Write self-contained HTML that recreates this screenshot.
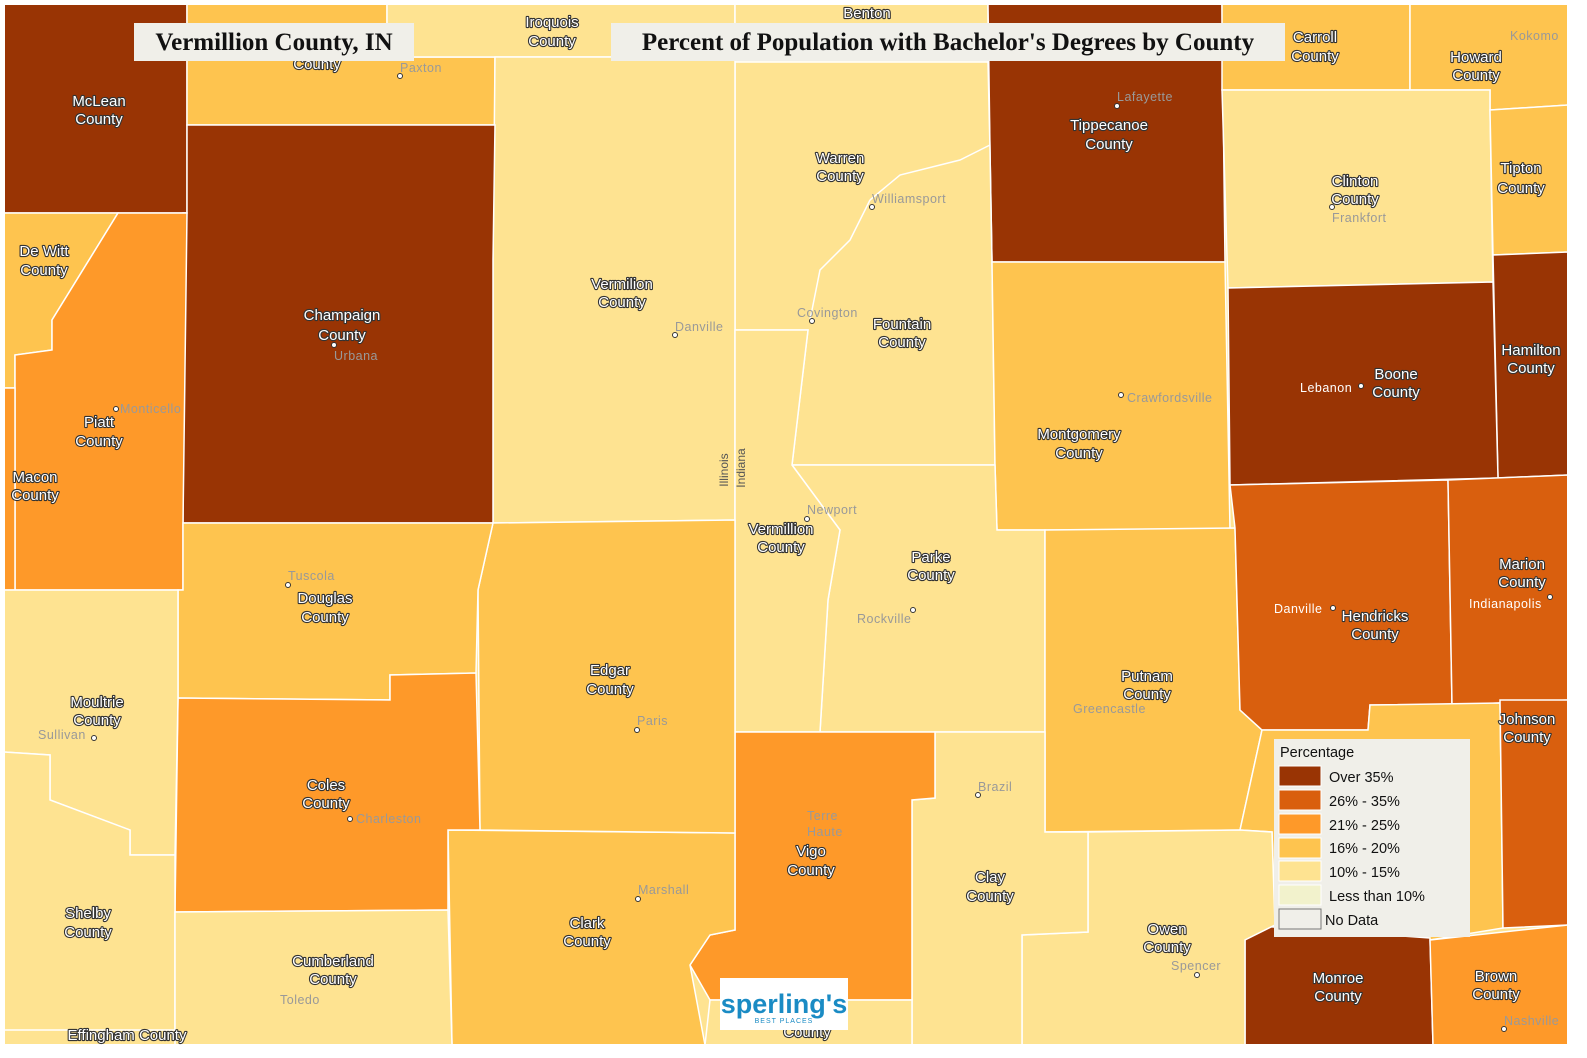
<!DOCTYPE html>
<html><head><meta charset="utf-8"><style>
body{margin:0;background:#fff}
svg{display:block}
.c{font-family:"Liberation Sans",sans-serif;font-size:15px;fill:#fff;stroke:#333;stroke-width:2.2px;paint-order:stroke;text-anchor:middle;stroke-linejoin:round}
.t{font-family:"Liberation Sans",sans-serif;font-size:12.5px;fill:#999;letter-spacing:0.5px}
.d{fill:#fff;stroke:#333;stroke-width:1}
</style></head><body>
<svg width="1587" height="1058" viewBox="0 0 1587 1058" xmlns="http://www.w3.org/2000/svg">
<rect width="1587" height="1058" fill="#fff"/>
<g stroke="#fff" stroke-width="1.5">
<rect x="4" y="4" width="1564" height="1041" fill="#fee391"/>
<polygon fill="#993404" points="4,4 187,4 187,213 4,213"/>
<polygon fill="#fec44f" points="187,4 387,4 387,57 495,57 495,125 187,125"/>
<polygon fill="#fee391" points="387,4 735,4 735,57 495,57 387,57"/>
<polygon fill="#fee391" points="735,4 988,4 988,62 735,62"/>
<polygon fill="#993404" points="988,4 1222,4 1225,262 992,262 990,150"/>
<polygon fill="#fec44f" points="1222,4 1410,4 1410,90 1222,90"/>
<polygon fill="#fec44f" points="1410,4 1568,4 1568,105 1490,110 1490,90 1410,90"/>
<polygon fill="#fee391" points="1222,90 1490,90 1490,110 1493,282 1228,288"/>
<polygon fill="#fec44f" points="1490,110 1568,105 1568,252 1493,255"/>
<polygon fill="#993404" points="1493,255 1568,252 1568,475 1498,478"/>
<polygon fill="#993404" points="1228,288 1493,282 1498,478 1230,485"/>
<polygon fill="#fee391" points="735,62 988,62 990,150 992,262 995,465 792,465 808,330 735,330"/>
<polygon fill="#fee391" points="495,57 735,57 735,520 493,523 493,260"/>
<polygon fill="#993404" points="187,125 495,125 493,260 493,523 183,523 183,213 187,213"/>
<polygon fill="#fec44f" points="4,213 118,213 52,320 52,350 15,355 15,388 4,388"/>
<polygon fill="#fe9929" points="118,213 187,213 183,523 183,590 15,590 15,355 52,350 52,320"/>
<polygon fill="#fe9929" points="4,388 15,388 15,590 4,590"/>
<polygon fill="#fec44f" points="992,262 1225,262 1230,530 997,530 995,465"/>
<polygon fill="#fee391" points="792,465 995,465 997,530 1045,530 1045,732 820,732 828,600 840,530"/>
<polygon fill="#fee391" points="735,330 808,330 792,465 840,530 828,600 820,732 735,732"/>
<polygon fill="#fec44f" points="1045,530 1235,528 1240,710 1262,730 1240,830 1045,832"/>
<polygon fill="#d95f0e" points="1230,485 1448,480 1452,705 1370,705 1368,730 1262,730 1240,710 1235,528"/>
<polygon fill="#d95f0e" points="1448,480 1568,475 1568,700 1452,705"/>
<polygon fill="#fec44f" points="1370,705 1500,703 1503,928 1430,940 1275,925 1272,832 1240,830 1262,730 1368,730"/>
<polygon fill="#d95f0e" points="1500,700 1568,700 1568,925 1503,928"/>
<polygon fill="#993404" points="1245,925 1430,938 1433,1045 1245,1045"/>
<polygon fill="#fe9929" points="1430,940 1568,925 1568,1045 1433,1045"/>
<polygon fill="#fee391" points="1088,832 1240,830 1272,832 1275,925 1245,940 1245,1045 1022,1045 1022,935 1088,932"/>
<polygon fill="#fee391" points="935,732 1045,732 1045,832 1088,832 1088,932 1022,935 1022,1045 912,1045 912,800 935,798"/>
<polygon fill="#fe9929" points="735,732 935,732 935,798 912,800 912,1000 710,1000 690,965 710,935 735,930"/>
<polygon fill="#fee391" points="710,1000 912,1000 912,1045 705,1045"/>
<polygon fill="#fec44f" points="448,830 735,833 735,930 710,935 690,965 705,1045 452,1045"/>
<polygon fill="#fec44f" points="493,523 735,520 735,833 480,830 478,590"/>
<polygon fill="#fec44f" points="183,523 493,523 478,590 476,673 390,675 390,700 178,698 178,590 183,590"/>
<polygon fill="#fe9929" points="178,698 390,700 390,675 476,673 480,830 448,830 448,910 175,912"/>
<polygon fill="#fee391" points="4,590 178,590 178,698 175,855 130,855 130,830 50,800 50,755 4,752"/>
<polygon fill="#fee391" points="4,752 50,755 50,800 130,830 130,855 175,855 175,1030 4,1030"/>
<polygon fill="#fee391" points="175,912 448,910 452,1045 175,1045"/>
<polyline fill="none" points="870,200 900,175 960,160 990,145"/>
<polyline fill="none" points="870,200 850,240 820,270 810,320"/>
</g>
<rect x="4" y="4" width="1564" height="1041" fill="none" stroke="#fff" stroke-width="2"/>

<g class="c">
<text x="99" y="106">McLean</text><text x="99" y="124">County</text>
<text x="317" y="69">County</text>
<text x="552" y="27">Iroquois</text><text x="552" y="46">County</text>
<text x="867" y="18">Benton</text>
<text x="1315" y="42">Carroll</text><text x="1315" y="61">County</text>
<text x="1476" y="62">Howard</text><text x="1476" y="80">County</text>
<text x="1109" y="130">Tippecanoe</text><text x="1109" y="149">County</text>
<text x="840" y="163">Warren</text><text x="840" y="181">County</text>
<text x="1355" y="186">Clinton</text><text x="1355" y="204">County</text>
<text x="1521" y="173">Tipton</text><text x="1521" y="193">County</text>
<text x="44" y="256">De Witt</text><text x="44" y="275">County</text>
<text x="622" y="289">Vermilion</text><text x="622" y="307">County</text>
<text x="342" y="320">Champaign</text><text x="342" y="340">County</text>
<text x="902" y="329">Fountain</text><text x="902" y="347">County</text>
<text x="1531" y="355">Hamilton</text><text x="1531" y="373">County</text>
<text x="1396" y="379">Boone</text><text x="1396" y="397">County</text>
<text x="99" y="427">Piatt</text><text x="99" y="446">County</text>
<text x="1079" y="439">Montgomery</text><text x="1079" y="458">County</text>
<text x="35" y="482">Macon</text><text x="35" y="500">County</text>
<text x="781" y="534">Vermillion</text><text x="781" y="552">County</text>
<text x="931" y="562">Parke</text><text x="931" y="580">County</text>
<text x="1522" y="569">Marion</text><text x="1522" y="587">County</text>
<text x="325" y="603">Douglas</text><text x="325" y="622">County</text>
<text x="1375" y="621">Hendricks</text><text x="1375" y="639">County</text>
<text x="610" y="675">Edgar</text><text x="610" y="694">County</text>
<text x="1147" y="681">Putnam</text><text x="1147" y="699">County</text>
<text x="97" y="707">Moultrie</text><text x="97" y="725">County</text>
<text x="1527" y="724">Johnson</text><text x="1527" y="742">County</text>
<text x="326" y="790">Coles</text><text x="326" y="808">County</text>
<text x="811" y="856">Vigo</text><text x="811" y="875">County</text>
<text x="990" y="882">Clay</text><text x="990" y="901">County</text>
<text x="88" y="918">Shelby</text><text x="88" y="937">County</text>
<text x="587" y="928">Clark</text><text x="587" y="946">County</text>
<text x="1167" y="934">Owen</text><text x="1167" y="952">County</text>
<text x="333" y="966">Cumberland</text><text x="333" y="984">County</text>
<text x="1338" y="983">Monroe</text><text x="1338" y="1001">County</text>
<text x="1496" y="981">Brown</text><text x="1496" y="999">County</text>
<text x="127" y="1040">Effingham County</text>
<text x="807" y="1037">County</text>
</g>

<g class="t">
<text x="400" y="72">Paxton</text>
<text x="1117" y="101">Lafayette</text>
<text x="1510" y="40">Kokomo</text>
<text x="872" y="203">Williamsport</text>
<text x="1332" y="222">Frankfort</text>
<text x="675" y="331">Danville</text>
<text x="797" y="317">Covington</text>
<text x="334" y="360">Urbana</text>
<text x="1300" y="392" fill="#fff" style="fill:#fff">Lebanon</text>
<text x="1127" y="402">Crawfordsville</text>
<text x="120" y="413">Monticello</text>
<text x="807" y="514">Newport</text>
<text x="288" y="580">Tuscola</text>
<text x="1274" y="613" style="fill:#fff">Danville</text>
<text x="1469" y="608" style="fill:#fff">Indianapolis</text>
<text x="857" y="623">Rockville</text>
<text x="1073" y="713">Greencastle</text>
<text x="637" y="725">Paris</text>
<text x="38" y="739">Sullivan</text>
<text x="978" y="791">Brazil</text>
<text x="356" y="823">Charleston</text>
<text x="807" y="820">Terre</text><text x="807" y="836">Haute</text>
<text x="638" y="894">Marshall</text>
<text x="1171" y="970">Spencer</text>
<text x="280" y="1004">Toledo</text>
<text x="1504" y="1025">Nashville</text>
</g>
<g>
<circle class="d" cx="400" cy="76" r="2.5"/><circle class="d" cx="1117" cy="106" r="2.5"/>
<circle class="d" cx="872" cy="207" r="2.5"/><circle class="d" cx="1332" cy="207" r="2.5"/>
<circle class="d" cx="675" cy="335" r="2.5"/><circle class="d" cx="812" cy="321" r="2.5"/>
<circle class="d" cx="334" cy="345" r="2.5"/><circle class="d" cx="1361" cy="386" r="2.5"/>
<circle class="d" cx="1121" cy="395" r="2.5"/><circle class="d" cx="116" cy="409" r="2.5"/>
<circle class="d" cx="807" cy="519" r="2.5"/><circle class="d" cx="288" cy="585" r="2.5"/>
<circle class="d" cx="1333" cy="608" r="2.5"/><circle class="d" cx="1550" cy="597" r="2.5"/>
<circle class="d" cx="913" cy="610" r="2.5"/><circle class="d" cx="637" cy="730" r="2.5"/>
<circle class="d" cx="94" cy="738" r="2.5"/><circle class="d" cx="978" cy="795" r="2.5"/>
<circle class="d" cx="350" cy="819" r="2.5"/><circle class="d" cx="638" cy="899" r="2.5"/>
<circle class="d" cx="1197" cy="975" r="2.5"/><circle class="d" cx="1504" cy="1029" r="2.5"/>
</g>
<text x="728" y="470" transform="rotate(-90 728 470)" style="font-family:'Liberation Sans',sans-serif;font-size:12px;fill:#555;text-anchor:middle">Illinois</text>
<text x="745" y="468" transform="rotate(-90 745 468)" style="font-family:'Liberation Sans',sans-serif;font-size:12px;fill:#555;text-anchor:middle">Indiana</text>

<rect x="134" y="23" width="280" height="38" fill="#f0efe9"/>
<text x="274" y="50" style="font-family:'Liberation Serif',serif;font-weight:bold;font-size:25px;text-anchor:middle;fill:#111">Vermillion County, IN</text>
<rect x="611" y="23" width="674" height="38" fill="#f0efe9"/>
<text x="948" y="50" style="font-family:'Liberation Serif',serif;font-weight:bold;font-size:25px;text-anchor:middle;fill:#111">Percent of Population with Bachelor's Degrees by County</text>

<rect x="1274" y="739" width="196" height="198" fill="#f0efe9"/>
<g style="font-family:'Liberation Sans',sans-serif;font-size:14.5px;fill:#111">
<text x="1280" y="757">Percentage</text>
<rect x="1279" y="766" width="42" height="20" fill="#993404" stroke="#fff"/><text x="1329" y="782">Over 35%</text>
<rect x="1279" y="790" width="42" height="20" fill="#d95f0e" stroke="#fff"/><text x="1329" y="806">26% - 35%</text>
<rect x="1279" y="814" width="42" height="20" fill="#fe9929" stroke="#fff"/><text x="1329" y="830">21% - 25%</text>
<rect x="1279" y="838" width="42" height="20" fill="#fec44f" stroke="#fff"/><text x="1329" y="853">16% - 20%</text>
<rect x="1279" y="861" width="42" height="20" fill="#fee391" stroke="#fff"/><text x="1329" y="877">10% - 15%</text>
<rect x="1279" y="885" width="42" height="20" fill="#f2f2cc" stroke="#fff"/><text x="1329" y="901">Less than 10%</text>
<rect x="1279" y="909" width="42" height="20" fill="#f0efe9" stroke="#777"/><text x="1325" y="925">No Data</text>
</g>

<rect x="720" y="978" width="128" height="52" fill="#fff"/>
<text x="784" y="1013" style="font-family:'Liberation Sans',sans-serif;font-weight:bold;font-size:27px;fill:#1a8bc4;text-anchor:middle">sperling's</text>
<text x="784" y="1023" style="font-family:'Liberation Sans',sans-serif;font-size:7px;fill:#1a8bc4;text-anchor:middle;letter-spacing:1px">BEST PLACES</text>
</svg>
</body></html>
